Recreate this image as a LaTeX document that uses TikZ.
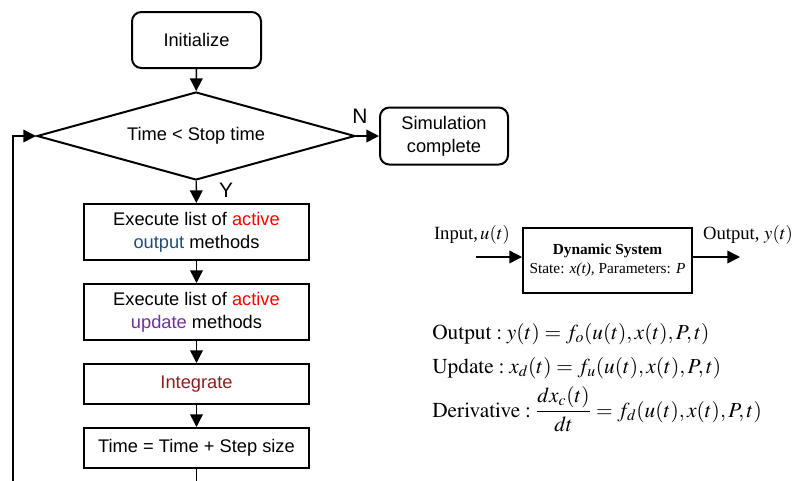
\documentclass[tikz,border=0pt]{standalone}
\usepackage{mathptmx}
\usepackage{fontspec}
\setmainfont{Liberation Serif}
\newfontfamily\arial{Liberation Sans}
\usetikzlibrary{shapes.geometric,arrows.meta}

\definecolor{outblue}{HTML}{1F4E79}
\definecolor{updpurple}{HTML}{7030A0}
\definecolor{intred}{HTML}{8B1E1E}

\begin{document}
\begin{tikzpicture}[x=0.75pt,y=-0.75pt,
  flow/.style={font=\arial\fontsize{13.7}{17.25}\selectfont},
  term/.style={flow,draw,line width=1.5pt,rounded corners=7pt,align=center,inner sep=0pt},
  proc/.style={flow,draw,line width=1.5pt,align=center,inner sep=0pt,minimum width=168.75pt},
  cond/.style={flow,draw,line width=1.5pt,diamond,aspect=3.6,inner sep=0pt,minimum width=238.5pt,minimum height=66pt},
  arr/.style={line width=1.1pt,-{Triangle[length=9.5pt,width=9.5pt]}},
  yn/.style={font=\arial\fontsize{15.7}{18}\selectfont},
  eqn/.style={font=\fontsize{16}{19}\selectfont,anchor=base west,inner sep=0pt}]

\useasboundingbox (0,0) rectangle (795,480);
\clip (0,0) rectangle (795,480);

\node[term,minimum width=96.75pt,minimum height=42pt] (init) at (196.5,40) {Initialize};
\node[cond] (dec) at (196,136) {Time < Stop time};
\node[term,minimum width=96pt,minimum height=42.75pt] (sim) at (444,136) {Simulation\\complete};
\node[proc,minimum height=42pt] (outm) at (196.5,232) {Execute list of \textcolor{red}{active}\\\textcolor{outblue}{output} methods};
\node[proc,minimum height=42pt] (updm) at (196.5,312) {Execute list of \textcolor{red}{active}\\\textcolor{updpurple}{update} methods};
\node[proc,minimum height=30pt] (integ) at (196.5,384) {\textcolor{intred}{Integrate}};
\node[proc,minimum height=30pt] (tstep) at (196.5,448) {Time = Time + Step size};

\node[yn] (nlab) at (360,116) {N};
\node[yn] (ylab) at (226,190) {Y};

\coordinate (loopbot) at (13,500);

\draw[arr] (init) -- (dec);
\draw[arr] (dec) -- (sim);
\draw[arr] (dec) -- (outm);
\draw[arr] (outm) -- (updm);
\draw[arr] (updm) -- (integ);
\draw[arr] (integ) -- (tstep);
\draw[arr] (tstep.south) |- (loopbot) |- (dec.west);

\node[draw,line width=1.5pt,align=center,inner sep=0pt,minimum width=126.75pt,minimum height=48.75pt,font=\fontsize{11.5}{14}\selectfont] (dyn) at (607.5,260.5) {\textbf{Dynamic System}\\State: \textit{x(t),} Parameters: \textit{P}};
\coordinate (uin) at (476,257);
\coordinate (yout) at (740,257);
\draw[arr] (uin) -- (uin -| dyn.west);
\draw[arr] (yout -| dyn.east) -- (yout);
\node[font=\fontsize{14}{17}\selectfont,anchor=base,inner sep=0pt] (ulab) at (472,239) {Input,$\,u(t)$};
\node[font=\fontsize{14}{17}\selectfont,anchor=base,inner sep=0pt] (ylab2) at (748,239) {Output, $y(t)$};

\node[eqn] (eqout) at (432,339) {$\mathrm{Output}:y(t)=f_o(u(t),x(t),P,t)$};
\node[eqn] (equpd) at (432,373) {$\mathrm{Update}:x_d(t)=f_u(u(t),x(t),P,t)$};
\node[eqn] (eqder) at (432,417) {$\mathrm{Derivative}:{\displaystyle\frac{dx_c(t)}{dt}}=f_d(u(t),x(t),P,t)$};

\end{tikzpicture}
\end{document}
